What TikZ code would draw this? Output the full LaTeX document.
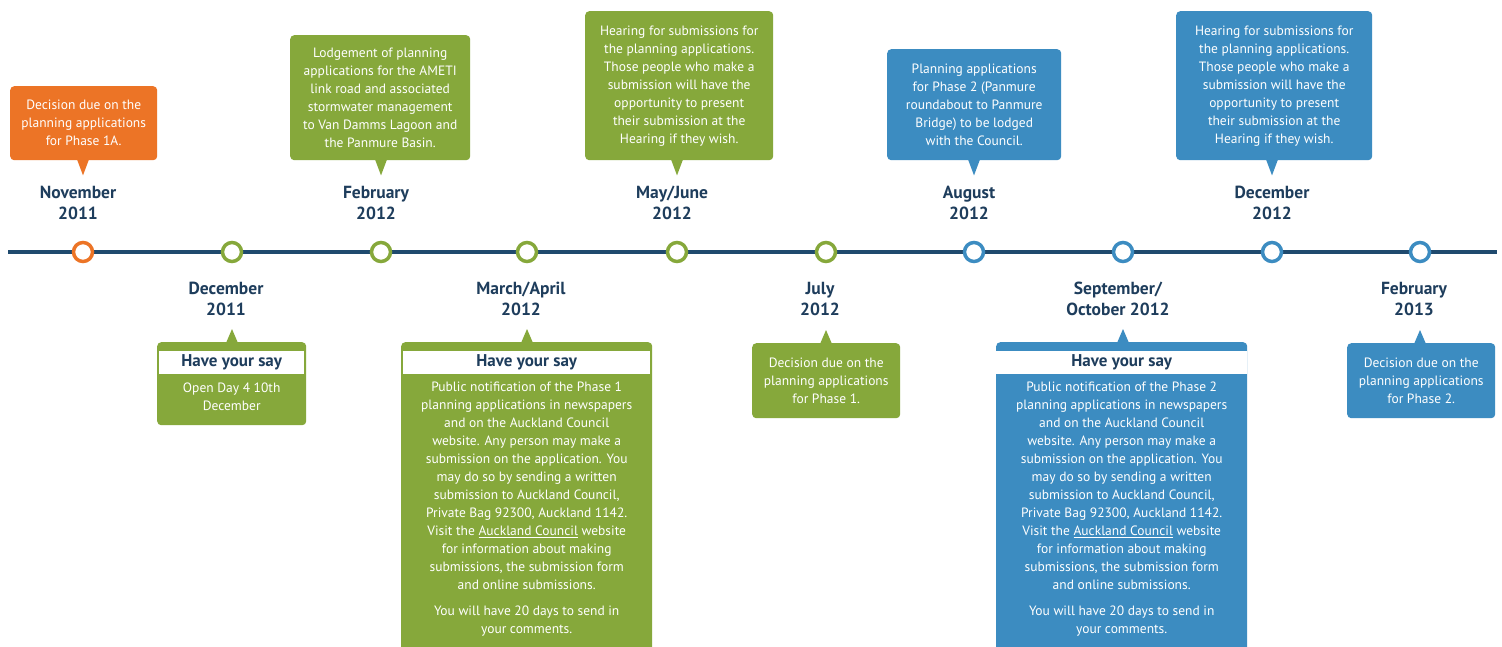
\documentclass[tikz,border=0pt]{standalone}
\usepackage{fontspec}
\setmainfont{PT Sans}
\usetikzlibrary{calc}
\definecolor{orng}{HTML}{EC7426}
\definecolor{grn}{HTML}{86A83B}
\definecolor{blu}{HTML}{3C8CC1}
\definecolor{navy}{HTML}{1E3D5C}
\definecolor{tline}{HTML}{1F4A6E}
\newcommand{\bodyfont}{\fontsize{13.5}{18}\selectfont}
\newcommand{\labfont}{\fontsize{17.5}{21}\selectfont\bfseries}
\newcommand{\hdrfont}{\fontsize{17}{18}\selectfont\bfseries}
\begin{document}
\begin{tikzpicture}[x=1pt,y=-1pt,
  box/.style={rounded corners=4pt, inner sep=0pt, text=white, font=\bodyfont, align=center, anchor=north west},
  btext/.style={inner sep=0pt, text=white, font=\bodyfont, align=center, anchor=north},
  lbl/.style={font=\labfont, text=navy, align=center},
  hdr/.style={font=\hdrfont, text=navy, inner sep=0pt},
  dot/.style={circle, draw, line width=3.5pt, fill=white, minimum size=19pt, inner sep=0pt},
  strip/.style={fill=white, draw=none}
]
\clip (0,0) rectangle (1502,646);
\fill[white] (0,0) rectangle (1502,646);

% timeline
\coordinate (tl0) at (8,252);
\coordinate (tl1) at (1497,252);
\draw[tline, line width=4pt] (tl0) -- (tl1);
\node[dot, draw=orng] (d1) at (83,252) {};
\node[dot, draw=grn] (d2) at (232,252) {};
\node[dot, draw=grn] (d3) at (381,252) {};
\node[dot, draw=grn] (d4) at (527,252) {};
\node[dot, draw=grn] (d5) at (677,252) {};
\node[dot, draw=grn] (d6) at (826,252) {};
\node[dot, draw=blu] (d7) at (974,252) {};
\node[dot, draw=blu] (d8) at (1123,252) {};
\node[dot, draw=blu] (d9) at (1272,252) {};
\node[dot, draw=blu] (d10) at (1420,252) {};

% date labels
\node[lbl] (l1) at (78,202.5) {November\\2011};
\node[lbl] (l2) at (226,298.5) {December\\2011};
\node[lbl] (l3) at (376,202.5) {February\\2012};
\node[lbl] (l4) at (521,298.5) {March/April\\2012};
\node[lbl] (l5) at (672,202.5) {May/June\\2012};
\node[lbl] (l6) at (820,298.5) {July\\2012};
\node[lbl] (l7) at (969,202.5) {August\\2012};
\node[lbl] (l8) at (1118,298.5) {September/\\October 2012};
\node[lbl] (l9) at (1272,202.5) {December\\2012};
\node[lbl] (l10) at (1414,298.5) {February\\2013};

% top callouts
\node[box, fill=orng, minimum width=147pt, minimum height=74pt] (b1) at (10,86)
  {Decision due on the\\planning applications\\for Phase 1A.};
\fill[orng] ($(d1 |- b1.south)+(-6,-1)$) -- ($(d1 |- b1.south)+(0,15)$) -- ($(d1 |- b1.south)+(6,-1)$) -- cycle;

\node[box, fill=grn, minimum width=180pt, minimum height=125pt] (b3) at (290,35)
  {Lodgement of planning\\applications for the AMETI\\link road and associated\\stormwater management\\to Van Damms Lagoon and\\the Panmure Basin.};
\fill[grn] ($(d3 |- b3.south)+(-6,-1)$) -- ($(d3 |- b3.south)+(0,15)$) -- ($(d3 |- b3.south)+(6,-1)$) -- cycle;

\node[box, fill=grn, minimum width=188pt, minimum height=149pt] (b5) at (585,11)
  {Hearing for submissions for\\the planning applications.\\Those people who make a\\submission will have the\\opportunity to present\\their submission at the\\Hearing if they wish.};
\fill[grn] ($(d5 |- b5.south)+(-6,-1)$) -- ($(d5 |- b5.south)+(0,15)$) -- ($(d5 |- b5.south)+(6,-1)$) -- cycle;

\node[box, fill=blu, minimum width=174pt, minimum height=111pt] (b7) at (887,49)
  {Planning applications\\for Phase 2 (Panmure\\roundabout to Panmure\\Bridge) to be lodged\\with the Council.};
\fill[blu] ($(d7 |- b7.south)+(-6,-1)$) -- ($(d7 |- b7.south)+(0,15)$) -- ($(d7 |- b7.south)+(6,-1)$) -- cycle;

\node[box, fill=blu, minimum width=196pt, minimum height=149pt] (b9) at (1176,11)
  {Hearing for submissions for\\the planning applications.\\Those people who make a\\submission will have the\\opportunity to present\\their submission at the\\Hearing if they wish.};
\fill[blu] ($(d9 |- b9.south)+(-6,-1)$) -- ($(d9 |- b9.south)+(0,15)$) -- ($(d9 |- b9.south)+(6,-1)$) -- cycle;

% bottom callouts
\node[box, fill=grn, minimum width=149pt, minimum height=83pt] (b2) at (157,342) {};
\fill[grn] ($(d2 |- b2.north)+(-6,1)$) -- ($(d2 |- b2.north)+(0,-13)$) -- ($(d2 |- b2.north)+(6,1)$) -- cycle;
\fill[strip] ($(b2.west |- 0,351)+(2,0)$) rectangle ($(b2.east |- 0,374)+(-2,0)$);
\node[hdr] (h2) at ($(b2.north)+(0,20.5)$) {Have your say};
\node[btext] (t2) at ($(b2.north)+(0,41)$) {Open Day 4 10th\\December};

\node[box, fill=grn, minimum width=251pt, minimum height=320pt] (b4) at (401,342) {};
\fill[grn] ($(d4 |- b4.north)+(-6,1)$) -- ($(d4 |- b4.north)+(0,-13)$) -- ($(d4 |- b4.north)+(6,1)$) -- cycle;
\fill[strip] ($(b4.west |- 0,351)+(2,0)$) rectangle ($(b4.east |- 0,374)+(-2,0)$);
\node[hdr] (h4) at ($(b4.north)+(0,20.5)$) {Have your say};
\node[btext] (t4) at ($(b4.north)+(0,40)$) {Public notification of the Phase 1\\planning applications in newspapers\\and on the Auckland Council\\website. Any person may make a\\submission on the application. You\\may do so by sending a written\\submission to Auckland Council,\\Private Bag 92300, Auckland 1142.\\Visit the \underline{Auckland Council} website\\for information about making\\submissions, the submission form\\and online submissions.\\[8pt]You will have 20 days to send in\\your comments.};

\node[box, fill=grn, minimum width=148pt, minimum height=75pt] (b6) at (752,343)
  {Decision due on the\\planning applications\\for Phase 1.};
\fill[grn] ($(d6 |- b6.north)+(-6,1)$) -- ($(d6 |- b6.north)+(0,-13)$) -- ($(d6 |- b6.north)+(6,1)$) -- cycle;

\node[box, fill=blu, minimum width=251pt, minimum height=320pt] (b8) at (996,342) {};
\fill[blu] ($(d8 |- b8.north)+(-6,1)$) -- ($(d8 |- b8.north)+(0,-13)$) -- ($(d8 |- b8.north)+(6,1)$) -- cycle;
\fill[strip] (b8.west |- 0,351) rectangle (b8.east |- 0,374);
\node[hdr] (h8) at ($(b8.north)+(0,20.5)$) {Have your say};
\node[btext] (t8) at ($(b8.north)+(0,39.5)$) {Public notification of the Phase 2\\planning applications in newspapers\\and on the Auckland Council\\website. Any person may make a\\submission on the application. You\\may do so by sending a written\\submission to Auckland Council,\\Private Bag 92300, Auckland 1142.\\Visit the \underline{Auckland Council} website\\for information about making\\submissions, the submission form\\and online submissions.\\[8pt]You will have 20 days to send in\\your comments.};

\node[box, fill=blu, minimum width=148pt, minimum height=75pt] (b10) at (1347,343)
  {Decision due on the\\planning applications\\for Phase 2.};
\fill[blu] ($(d10 |- b10.north)+(-6,1)$) -- ($(d10 |- b10.north)+(0,-13)$) -- ($(d10 |- b10.north)+(6,1)$) -- cycle;
\end{tikzpicture}
\end{document}
